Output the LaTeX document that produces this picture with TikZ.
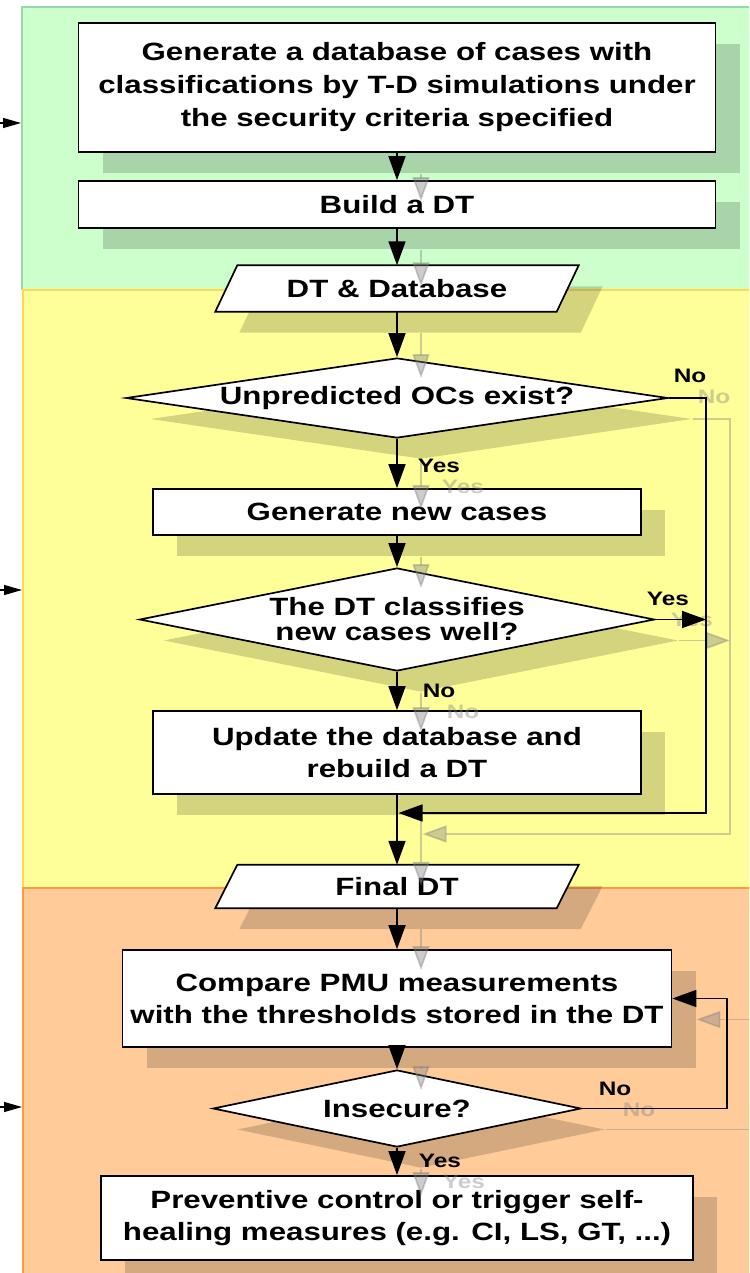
\documentclass[tikz,border=0pt]{standalone}
\usepackage{fontspec}
\setmainfont{Liberation Sans}[FakeStretch=1.25]
\usetikzlibrary{arrows.meta,shapes.geometric,shadows}
\definecolor{greenbg}{HTML}{CCFFCC}
\definecolor{greenln}{HTML}{98D8AA}
\definecolor{yellowbg}{HTML}{FFFF99}
\definecolor{yellowln}{HTML}{FFD84D}
\definecolor{orangebg}{HTML}{FFCC99}
\definecolor{orangeln}{HTML}{FF9944}
\newcommand\flowlinks[1]{%
  \draw[arr] (b1) -- (b2);
  \draw[arr] (b2) -- (p1);
  \draw[arr] (p1) -- (d1);
  \draw[arr] (d1) -- (b3);
  \draw[arr] (d1.east) -| (rx) -- (j);
  \draw[arr] (b3) -- (d2);
  \draw[arr] (d2.east) -- (d2.east -| rx);
  \draw[arr] (d2) -- (b4);
  \draw[arr] (b4.south) -- (p2.north);
  \draw[arr] (p2) -- (b5);
  \draw[arr] (b5) -- (d3);
  \draw[arr] (d3.east) -- (c3) |- (b5.east);
  \draw[arr] (d3) -- (b6);
  \node[lbl] (#1n1) at (690,382) {No};
  \node[lbl] (#1y1) at (439,472) {Yes};
  \node[lbl] (#1y2) at (668,605) {Yes};
  \node[lbl] (#1n2) at (439,697) {No};
  \node[lbl] (#1n3) at (615,1095) {No};
  \node[lbl] (#1y3) at (440,1167) {Yes};
}
\newcommand\paraoutline[1]{%
  \draw[parapoly, sh] ([xshift=-11pt]#1.south west) -- ([xshift=-11pt]#1.south east)
    -- ([xshift=11pt]#1.north east) -- ([xshift=11pt]#1.north west) -- cycle;
}
\begin{document}
\begin{tikzpicture}[x=1pt,y=-1pt,
  sh/.style={drop shadow={shadow xshift=24pt, shadow yshift=-21pt, fill=black, opacity=0.17}},
  box/.style={rectangle, draw=black, fill=white, line width=1.7pt, inner sep=0pt, align=center,
    font=\bfseries\fontsize{25}{32}\selectfont, sh},
  dia/.style={diamond, draw=black, fill=white, line width=1.7pt, inner sep=0pt, align=center,
    font=\bfseries\fontsize{25}{32}\selectfont, sh},
  parabox/.style={rectangle, draw=none, inner sep=0pt, align=center,
    font=\bfseries\fontsize{25}{32}\selectfont},
  parapoly/.style={draw=black, fill=white, line width=1.7pt, line join=miter},
  arr/.style={line width=1.7pt, -{Triangle[length=24pt,width=17pt]}},
  larr/.style={line width=1.2pt, -{Triangle[length=18pt,width=10pt]}},
  lbl/.style={anchor=base, inner sep=0pt, font=\bfseries\fontsize{19.5}{22}\selectfont}]
\useasboundingbox (0,0) rectangle (749,1273);
\clip (0,0) rectangle (749,1273);
% regions
\fill[greenbg] (22,7) rectangle (760,290);
\draw[greenln, line width=1.5pt] (760,7) -- (22,7) -- (22,290);
\fill[yellowbg] (23,290) rectangle (760,888);
\draw[yellowln, line width=1.5pt] (760,290) -- (23,290) -- (23,888);
\fill[orangebg] (23,888) rectangle (760,1290);
\draw[orangeln, line width=1.5pt] (760,888) -- (23,888) -- (23,1290);
% incoming arrows on the left
\coordinate (la1) at (-2,123); \coordinate (lt1) at (21,123);
\coordinate (la2) at (-2,590); \coordinate (lt2) at (22,590);
\coordinate (la3) at (-2,1107); \coordinate (lt3) at (22,1107);
\draw[larr] (la1) -- (lt1);
\draw[larr] (la2) -- (lt2);
\draw[larr] (la3) -- (lt3);
% nodes
\node[box, minimum width=637pt, minimum height=129pt, font=\bfseries\fontsize{25}{33}\selectfont] (b1) at (397,87.5)
  {Generate a database of cases with\\classifications by T-D simulations under\\the security criteria specified};
\node[box, minimum width=637pt, minimum height=47pt] (b2) at (397,204.5) {Build a DT};
\path (397,288.5) node[parabox, minimum width=341pt, minimum height=46pt] (p1) {};
\paraoutline{p1}
\node[parabox] (p1t) at (p1.center) {DT \& Database};
\node[dia, minimum width=542pt, minimum height=80pt, aspect=7] (d1) at (397,398) {Unpredicted OCs exist?};
\node[box, minimum width=488pt, minimum height=46pt] (b3) at (397,512) {Generate new cases};
\node[dia, minimum width=515pt, minimum height=103pt, aspect=5, font=\bfseries\fontsize{25}{25}\selectfont] (d2) at (397,619.5)
  {The DT classifies\\new cases well?};
\node[box, minimum width=488pt, minimum height=83pt] (b4) at (397,752.5) {Update the database and\\rebuild a DT};
\path (397,886.5) node[parabox, minimum width=341pt, minimum height=43pt] (p2) {};
\paraoutline{p2}
\node[parabox] (p2t) at (p2.center) {Final DT};
\node[box, minimum width=549pt, minimum height=97pt] (b5) at (397,998.5)
  {Compare PMU measurements\\with the thresholds stored in the DT};
\node[dia, minimum width=368pt, minimum height=77pt, aspect=4.8] (d3) at (397,1108.5) {Insecure?};
\node[box, minimum width=592pt, minimum height=84pt] (b6) at (397,1218)
  {Preventive control or trigger self-\\healing measures (e.g. CI, LS, GT, ...)};
% routing points
\coordinate (rx) at (706,813);
\coordinate (j) at (398.5,813);
\coordinate (c3) at (727,1108.5);
% ghost (shadow) of connectors
\begin{scope}[transform canvas={shift={(24pt,-21pt)}}, color=gray, opacity=0.4]
  \flowlinks{g}
\end{scope}
% connectors
\flowlinks{r}
\end{tikzpicture}
\end{document}
